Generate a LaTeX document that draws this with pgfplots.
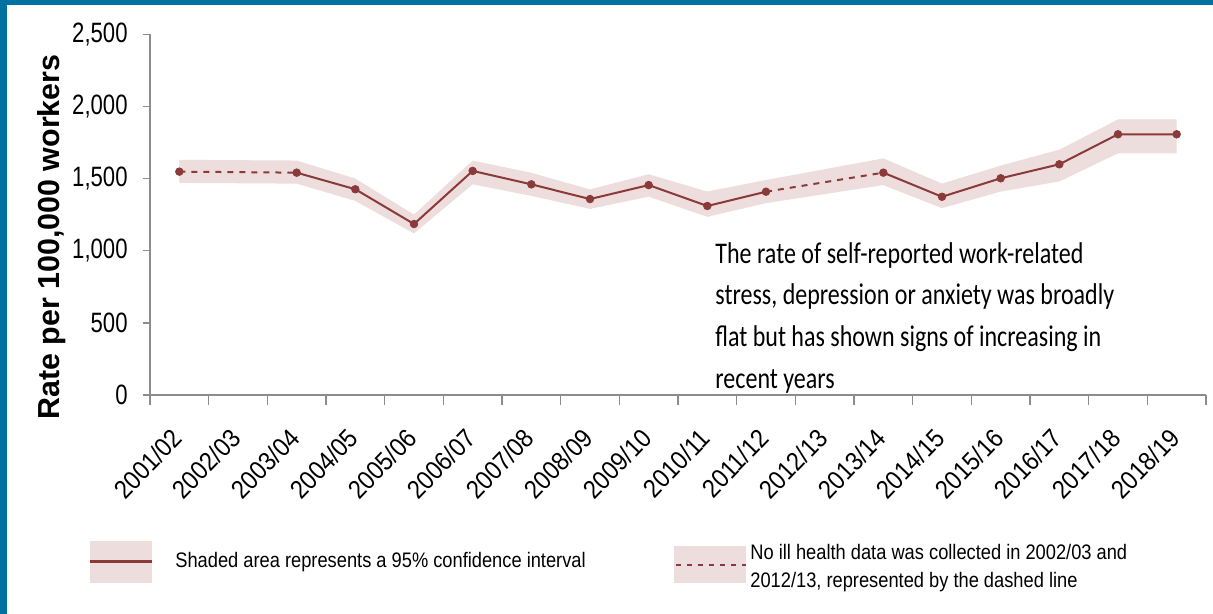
\documentclass[border=0pt]{standalone}
\usepackage{fontspec}
\setmainfont{Liberation Sans}
\newfontfamily\arialn[FakeStretch=0.79]{Liberation Sans}
\newfontfamily\arialx[FakeStretch=0.9]{Liberation Sans}
\newfontfamily\arialleg[FakeStretch=0.87]{Liberation Sans}
\newfontfamily\calin[FakeStretch=0.8]{Carlito}
\usepackage{pgfplots}
\pgfplotsset{compat=1.18}
\usepackage{pgfplotstable}
\definecolor{hseblue}{HTML}{0071A0}
\definecolor{lineRed}{HTML}{8B3A3A}
\definecolor{bandPink}{HTML}{EEDDDD}
\definecolor{axgray}{HTML}{8C8C8C}

\pgfplotstableread{
x y
0 1548
2 1541
3 1426
4 1185
5 1553
6 1460
7 1358
8 1455
9 1310
10 1409
12 1541
13 1374
14 1502
15 1599
16 1807
17 1807
}\rates

% 95% confidence band: upper limits left to right, then lower limits right to left
\pgfplotstableread{
x y
0 1630
2 1625
3 1500
4 1250
5 1625
6 1540
7 1425
8 1530
9 1410
10 1490
12 1640
13 1465
14 1590
15 1700
16 1910
17 1910
17 1675
16 1675
15 1480
14 1410
13 1295
12 1455
10 1330
9 1235
8 1375
7 1290
6 1380
5 1460
4 1120
3 1345
2 1465
0 1470
}\band

\begin{document}
\begin{tikzpicture}
\path[use as bounding box, fill=white] (0pt,0pt) rectangle (606.5pt,307pt);
\fill[hseblue] (0pt,0pt) rectangle (3.5pt,307pt);
\fill[hseblue] (0pt,304.5pt) rectangle (606.5pt,307pt);
\begin{axis}[
  at={(75pt,109.5pt)}, anchor=south west,
  scale only axis, width=528pt, height=180.35pt,
  xmin=-0.5, xmax=17.5, ymin=0, ymax=2500,
  clip=false,
  axis x line*=bottom, axis y line*=left,
  axis line style={axgray, line width=0.7pt},
  tick style={axgray, line width=0.7pt},
  tick align=outside,
  major tick length=3.5pt,
  minor tick length=5pt,
  xtick={0,...,17},
  xticklabels={2001/02,2002/03,2003/04,2004/05,2005/06,2006/07,2007/08,2008/09,2009/10,2010/11,2011/12,2012/13,2013/14,2014/15,2015/16,2016/17,2017/18,2018/19},
  major x tick style={draw=none},
  minor xtick={-0.5,0.5,...,17.5},
  xticklabel style={xshift=-4.5pt, yshift=-12pt, rotate=46, anchor=north east, inner sep=0pt, font=\arialx\fontsize{13}{15}\selectfont},
  ytick={0,500,...,2500},
  yticklabel style={font=\arialn\fontsize{14}{16}\selectfont, inner sep=0pt, xshift=-7.5pt},
  /pgf/number format/.cd, 1000 sep={,}, assume math mode=true,
  /pgfplots/.cd,
  ylabel={Rate per 100,000 workers},
  every axis y label/.style={at={(axis description cs:-0.0928,0.438)}, rotate=90, anchor=center, font=\bfseries\fontsize{15.2}{17}\selectfont},
]
\addplot[fill=bandPink, draw=none, forget plot] table[x=x, y=y]{\band} -- cycle;
\addplot[lineRed, line width=1pt, restrict x to domain=2:10] table[x=x, y=y]{\rates};
\addplot[lineRed, line width=1pt, restrict x to domain=12:17] table[x=x, y=y]{\rates};
\addplot[lineRed, line width=1pt, dash pattern=on 3pt off 3pt, restrict x to domain=0:2] table[x=x, y=y]{\rates};
\addplot[lineRed, line width=1pt, dash pattern=on 3pt off 3pt, restrict x to domain=10:12] table[x=x, y=y]{\rates};
\addplot[only marks, mark=*, mark size=1.9pt, lineRed] table[x=x, y=y]{\rates};
\end{axis}
\node[anchor=north west, align=left, inner sep=0pt, font=\calin\fontsize{15}{20.85}\selectfont] at (357.5pt,186pt)
 {The rate of self-reported work-related\\stress, depression or anxiety was broadly\\flat but has shown signs of increasing in\\recent years};
% legend
\fill[bandPink] (45pt,15.5pt) rectangle (76pt,36.5pt);
\draw[lineRed, line width=1.5pt] (45pt,26pt) -- (76pt,26pt);
\node[anchor=west, inner sep=0pt, font=\arialleg\fontsize{10.5}{14}\selectfont] at (87.5pt,26pt) {Shaded area represents a 95\% confidence interval};
\fill[bandPink] (337pt,15.5pt) rectangle (373pt,34pt);
\draw[lineRed, line width=1pt, dash pattern=on 2.5pt off 3pt] (338pt,24.5pt) -- (373pt,24.5pt);
\node[anchor=west, align=left, inner sep=0pt, font=\arialleg\fontsize{10.5}{14}\selectfont] at (375pt,23pt) {No ill health data was collected in 2002/03 and\\2012/13, represented by the dashed line};
\end{tikzpicture}
\end{document}
